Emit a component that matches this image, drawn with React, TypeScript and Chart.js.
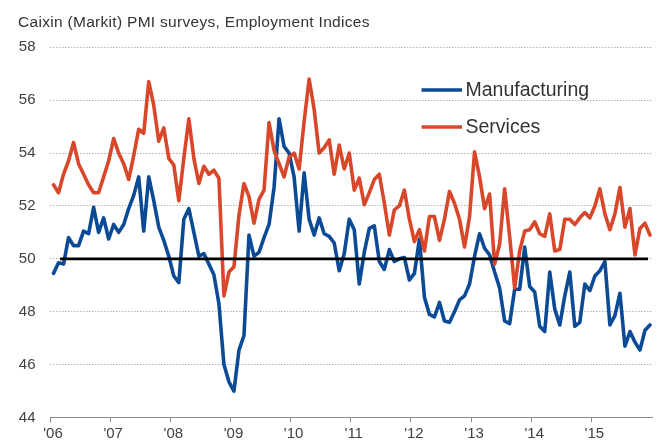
import { useEffect, useRef } from "react";
import { Chart, registerables } from "chart.js";

Chart.register(...registerables);

// Monthly employment indices, Jan 2006 .. Dec 2015 (index 0 = Jan 2006)
const yearLabels = ["'06", "'07", "'08", "'09", "'10", "'11", "'12", "'13", "'14", "'15"];
const yTicks = [44, 46, 48, 50, 52, 54, 56, 58];

const manufacturing = [
  49.45, 49.85, 49.8, 50.8, 50.5, 50.5, 51.05, 50.95, 51.95, 51.0, 51.55, 50.75,
  51.3, 51.0, 51.3, 51.9, 52.4, 53.1, 51.05, 53.1, 52.2, 51.2, 50.7, 50.1,
  49.35, 49.1, 51.5, 51.9, 51.0, 50.1, 50.2, 49.8, 49.4, 48.3, 46.0, 45.35,
  45.0, 46.55, 47.1, 50.9, 50.1, 50.25, 50.8, 51.3, 52.7, 55.3, 54.25, 54.0,
  53.1, 51.05, 53.25, 51.5, 50.9, 51.55, 50.95, 50.85, 50.6, 49.55, 50.2, 51.5,
  51.1, 49.05, 50.25, 51.15, 51.25, 49.9, 49.6, 50.35, 49.9, 50.0, 50.05, 49.2,
  49.45, 50.75, 48.55, 47.9, 47.8, 48.35, 47.65, 47.6, 48.0, 48.45, 48.6, 49.05,
  50.1, 50.95, 50.4, 50.15, 49.5, 48.9, 47.65, 47.55, 48.85, 48.85, 50.45, 48.95,
  48.75, 47.45, 47.25, 49.5, 48.1, 47.5, 48.6, 49.5, 47.45, 47.6, 49.05, 48.8,
  49.35, 49.55, 49.9, 47.5, 47.85, 48.7, 46.7, 47.25, 46.85, 46.55, 47.3, 47.5,
];

const services = [
  52.8, 52.5, 53.2, 53.7, 54.4, 53.6, 53.2, 52.8, 52.5, 52.5, 53.1, 53.7,
  54.55, 54.0, 53.6, 53.0, 53.9, 54.9, 54.75, 56.7, 55.8, 54.45, 54.95, 53.8,
  53.55, 52.2, 53.8, 55.3, 53.8, 52.85, 53.5, 53.2, 53.35, 53.05, 48.6, 49.5,
  49.7, 51.65, 52.85, 52.35, 51.35, 52.25, 52.6, 55.15, 54.1, 53.6, 53.1, 53.85,
  54.0, 53.4, 55.2, 56.8, 55.65, 54.0, 54.2, 54.5, 53.2, 54.3, 53.4, 54.0,
  52.6, 53.05, 52.05, 52.5, 53.0, 53.2, 52.1, 50.9, 51.85, 52.0, 52.6, 51.5,
  50.65, 51.1, 50.3, 51.6, 51.6, 50.7, 51.5, 52.55, 52.1, 51.5, 50.45, 51.6,
  54.05, 53.1, 51.9, 52.45, 49.8, 50.55, 52.65, 50.85, 48.9, 50.3, 51.05, 51.1,
  51.4, 50.95, 50.85, 51.7, 50.3, 50.35, 51.5, 51.5, 51.3, 51.55, 51.75, 51.55,
  52.0, 52.65, 51.7, 51.1, 51.7, 52.7, 51.2, 51.9, 50.15, 51.15, 51.35, 50.9,
];

const referenceLevel = 50;
const referenceSpan = [1.3, 118.6];

const X_MIN = -0.7;
const X_MAX = 119.4;

const BLUE = "#0b4a95";
const RED = "#d9472a";
const FONT = "'Liberation Sans', Arial, sans-serif";

const legendPlugin = {
  id: "insideLegend",
  afterDatasetsDraw(chart: any) {
    const ctx = chart.ctx;
    const items = ["Manufacturing", "Services"]
      .map((name) => chart.data.datasets.find((d: any) => d.label === name))
      .filter(Boolean);
    ctx.save();
    items.forEach((d: any, k: number) => {
      const y = 90 + k * 37;
      ctx.strokeStyle = d.borderColor;
      ctx.lineWidth = 3.5;
      ctx.lineCap = "butt";
      ctx.beginPath();
      ctx.moveTo(421.5, y);
      ctx.lineTo(462, y);
      ctx.stroke();
      ctx.fillStyle = "#333333";
      ctx.font = `19.5px ${FONT}`;
      ctx.textBaseline = "middle";
      ctx.textAlign = "left";
      ctx.fillText(d.label, 465.5, y + 1);
    });
    ctx.restore();
  },
};

export default function App() {
  const canvasRef = useRef<HTMLCanvasElement | null>(null);

  useEffect(() => {
    document.body.style.margin = "0";
    const canvas = canvasRef.current;
    if (!canvas) return;
    const chart = new Chart(canvas, {
      type: "line",
      data: {
        datasets: [
          {
            label: "50",
            data: referenceSpan.map((x) => ({ x, y: referenceLevel })),
            borderColor: "#000000",
            borderWidth: 2.6,
            pointRadius: 0,
            order: 0,
          } as any,
          {
            label: "Services",
            data: services.map((v, i) => ({ x: i, y: v })),
            borderColor: RED,
            borderWidth: 3.6,
            pointRadius: 0,
            tension: 0,
            borderJoinStyle: "round",
            borderCapStyle: "round",
            order: 1,
          } as any,
          {
            label: "Manufacturing",
            data: manufacturing.map((v, i) => ({ x: i, y: v })),
            borderColor: BLUE,
            borderWidth: 3.6,
            pointRadius: 0,
            tension: 0,
            borderJoinStyle: "round",
            borderCapStyle: "round",
            order: 2,
          } as any,
        ],
      },
      options: {
        animation: false,
        responsive: true,
        maintainAspectRatio: false,
        layout: { padding: { top: 47.3, right: 9, bottom: 0, left: 0 } },
        plugins: {
          legend: { display: false },
          tooltip: { enabled: false },
          title: { display: false },
        },
        scales: {
          x: {
            type: "linear",
            min: X_MIN,
            max: X_MAX,
            afterFit: (s: any) => {
              s.height = 23.4;
            },
            afterBuildTicks: (s: any) => {
              s.ticks = yearLabels.map((_, k) => ({ value: X_MIN + 12 * k }));
            },
            ticks: {
              autoSkip: false,
              maxRotation: 0,
              padding: 2,
              labelOffset: 3,
              color: "#404040",
              font: { family: FONT, size: 15 },
              callback: (_v: any, idx: number) => yearLabels[idx],
            },
            grid: {
              display: true,
              drawOnChartArea: false,
              drawTicks: true,
              tickLength: 5,
              color: "#8c8c8c",
              lineWidth: 1,
            },
            border: { display: true, color: "#8c8c8c", width: 1 },
          },
          y: {
            type: "linear",
            min: 44,
            max: 58,
            afterFit: (s: any) => {
              s.width = 50;
            },
            afterBuildTicks: (s: any) => {
              s.ticks = yTicks.map((v) => ({ value: v }));
            },
            ticks: {
              padding: 14.5,
              color: "#404040",
              font: { family: FONT, size: 15 },
            },
            grid: {
              drawTicks: false,
              color: "#b3b3b3",
              lineWidth: 1,
            },
            border: { display: false, dash: [1.5, 1.5] },
          },
        },
      },
      plugins: [legendPlugin],
    });
    return () => chart.destroy();
  }, []);

  return (
    <div style={{ position: "relative", width: 661, height: 441, background: "#ffffff", overflow: "hidden" }}>
      <canvas ref={canvasRef} />
      <div
        style={{
          position: "absolute",
          left: 18,
          top: 13,
          fontFamily: FONT,
          fontSize: 15.5,
          lineHeight: "18px",
          letterSpacing: "0.3px",
          color: "#333333",
          whiteSpace: "nowrap",
        }}
      >
        Caixin (Markit) PMI surveys, Employment Indices
      </div>
    </div>
  );
}
